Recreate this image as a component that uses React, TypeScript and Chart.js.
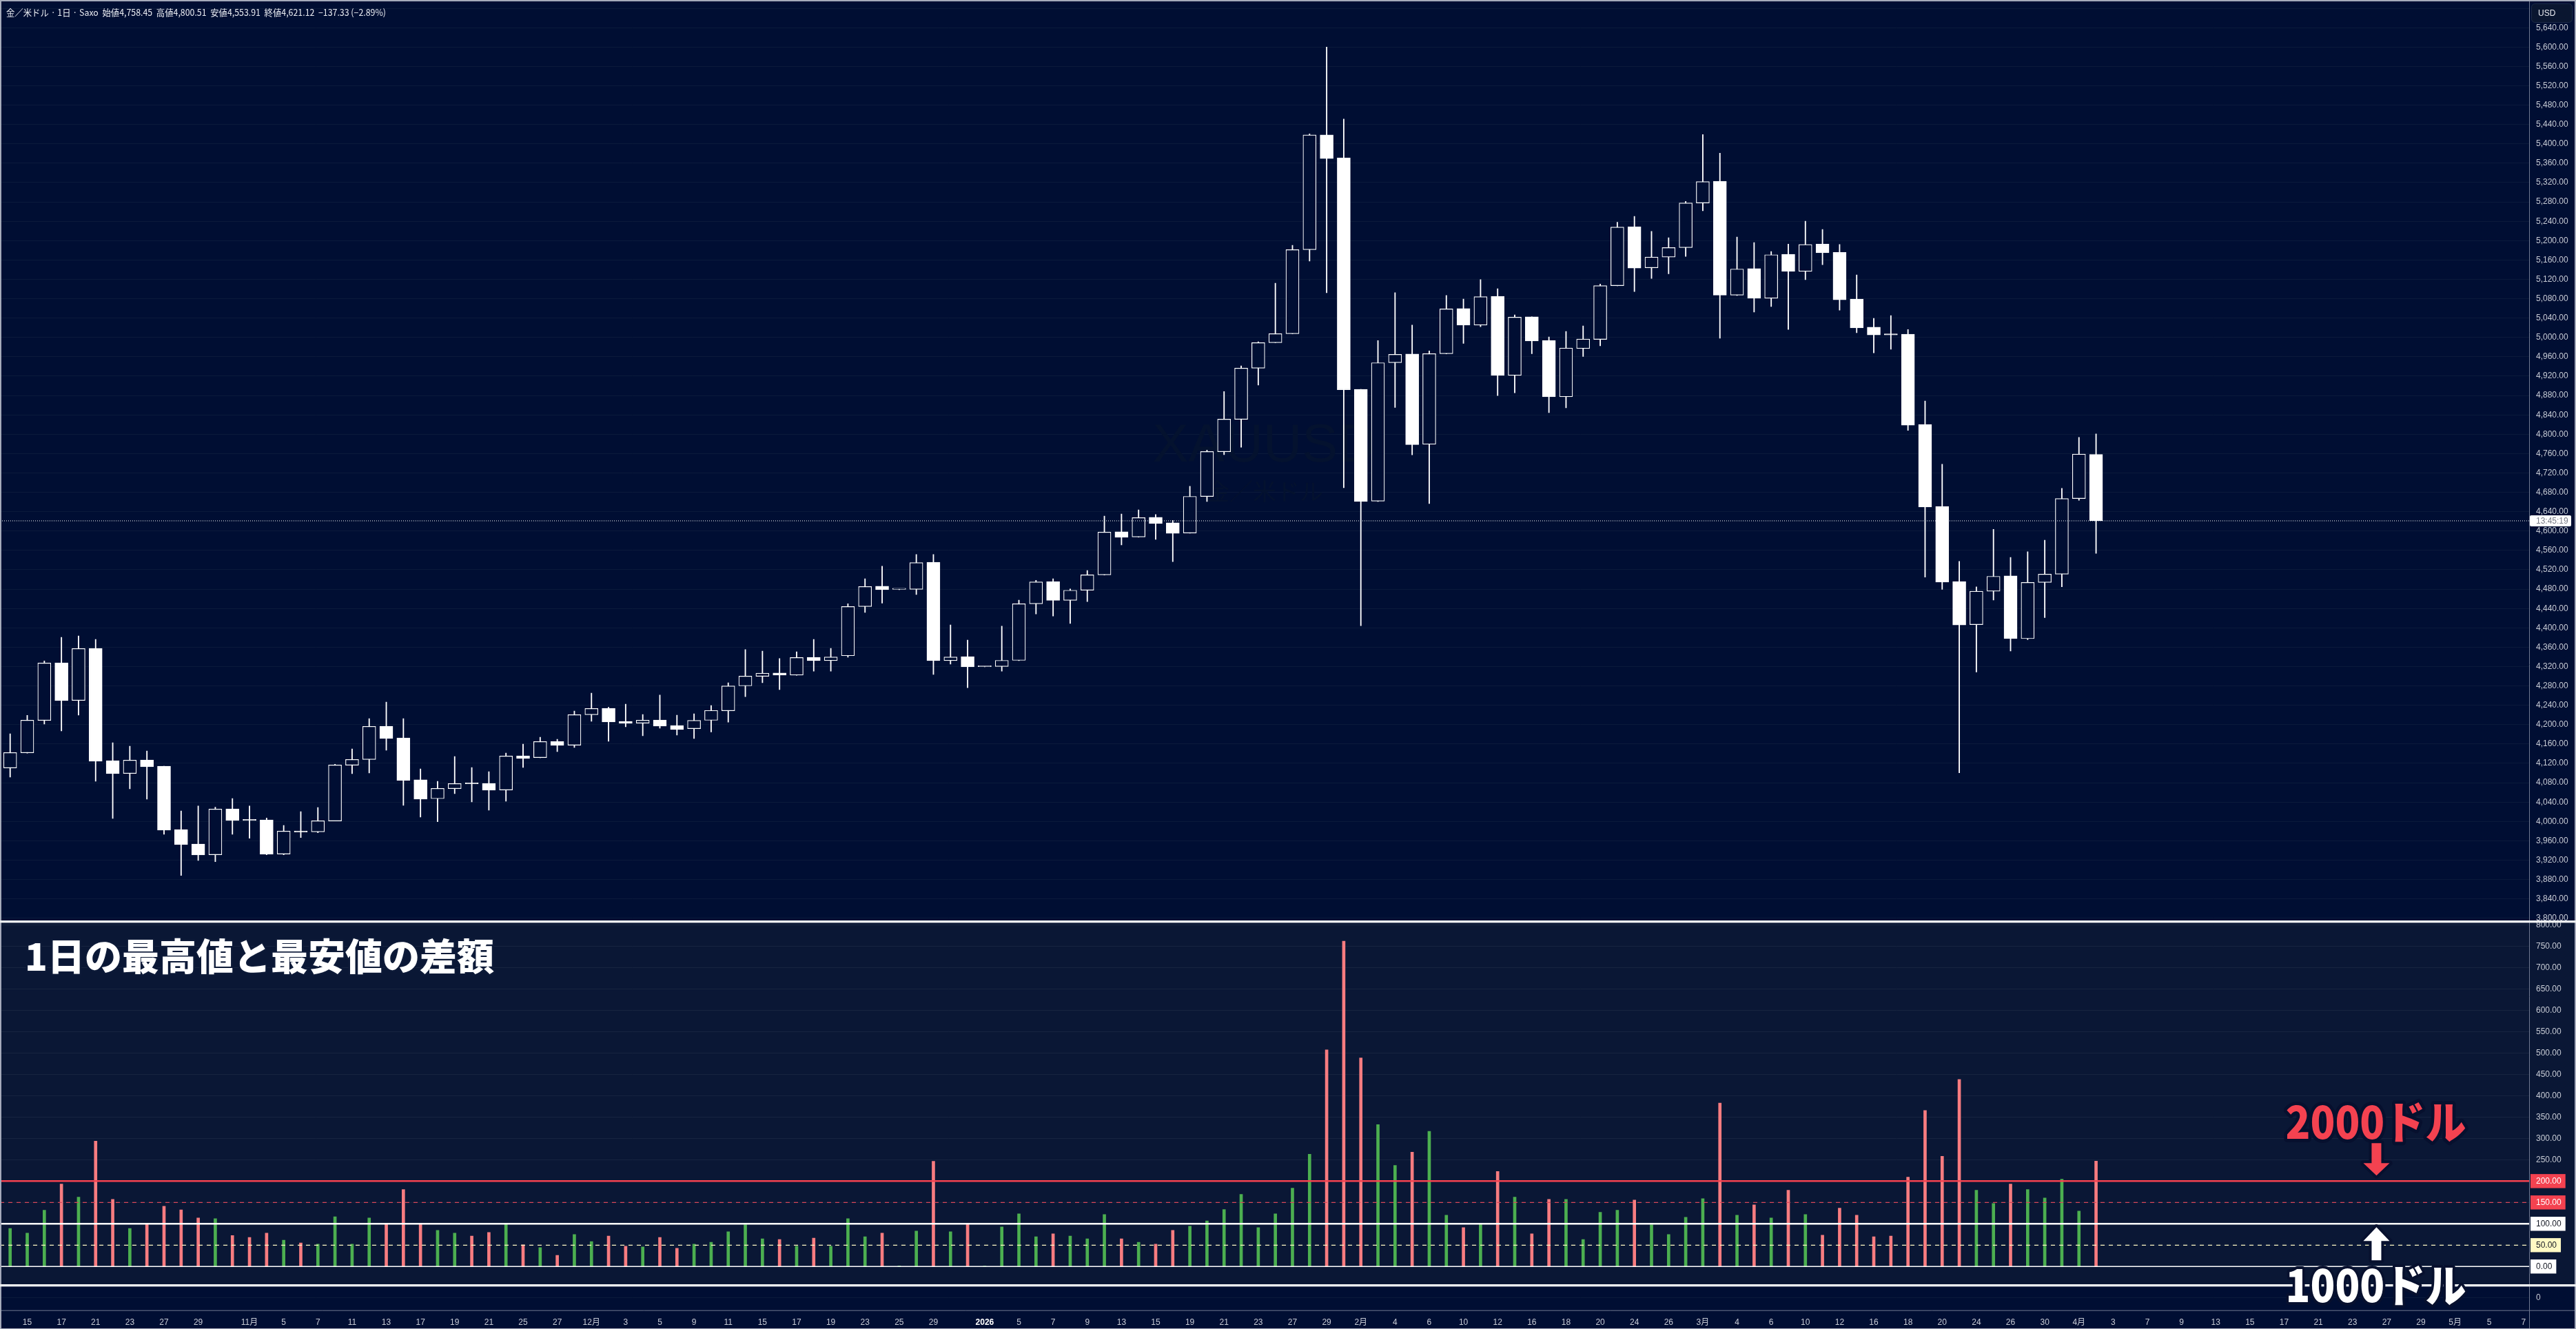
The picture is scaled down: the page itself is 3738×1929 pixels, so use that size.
import React, { useEffect, useRef } from "react";
import { Chart, registerables } from "chart.js";

Chart.register(...registerables);

const opens = [4110.5,4141.8,4208.7,4327.8,4250,4357.7,4125.7,4099.1,4127.1,4114.3,
3983.4,3953.5,3931.2,4026.1,4002.8,4003.3,3932.6,3980.5,3978.6,4001,
4116.2,4128.1,4196.9,4172.7,4085.9,4047,4067.8,4078.7,4078.7,4065,
4135.7,4131.9,4165.1,4157.5,4220.6,4233.9,4206.8,4203.1,4209.7,4198.3,
4191.8,4208.9,4228.6,4280.1,4299.8,4306.8,4302.3,4339.2,4332.2,4342.4,
4444,4486,4479.5,4479.6,4535.6,4332.2,4340.5,4319.7,4320.1,4332.8,
4449.8,4495.5,4456.8,4477.7,4509.5,4598.5,4587.7,4628.4,4616.9,4595.9,
4671.5,4763.9,4830.8,4936.6,4989.2,5007.8,5181.4,5418.5,5371.2,4893,
4661.7,4947.8,4965.7,4779.4,4966.5,5059.7,5025.4,5085.1,4921.6,5042.6,
4993.5,4877.5,4977.2,4996,5107.1,5228.9,5143.9,5166,5185.6,5277.9,
5322.9,5087.5,5142.3,5081,5171.7,5136.5,5192.9,5175.8,5079.3,5021.3,
5006,5006.6,4820.3,4651,4495.6,4406.7,4475.6,4507.4,4377.6,4493.8,
4511,4667.2,4758.45];

const closes = [4142.3,4209.2,4327.4,4249.6,4357.3,4124.3,4098.7,4126.7,4112.9,3982,
3952,3930.7,4025.6,4001.9,4002,3932.1,3980,3978.1,4001.4,4116.7,
4128.1,4196.4,4171.3,4084.9,4046,4068.3,4078.3,4077.8,4064.5,4135.2,
4130,4165.1,4157,4220.6,4233.4,4205.4,4202.6,4209.2,4196.9,4189.8,
4208.9,4229.3,4280.1,4300.4,4306.2,4302.3,4338.6,4332.2,4339.8,4444,
4485.4,4479,4480.3,4534.9,4332.2,4339.8,4319.5,4320.1,4332.8,4449.8,
4494.9,4456.8,4477.7,4509.5,4597.8,4587,4627.7,4615.6,4595.3,4671.6,
4764.3,4831.2,4936.6,4989.2,5007.8,5181.4,5418.5,5369.6,4892,4660.9,
4947.8,4964.9,4778.6,4966.5,5058.9,5025.4,5084.2,4921.6,5041.8,4992.7,
4877.5,4978,4996.8,5107.1,5228.1,5143.1,5166,5185.6,5277.9,5322,
5087.5,5141.4,5081,5170.9,5136.5,5192.1,5175,5077.7,5019.7,5005,
5005.3,4818.7,4649.5,4494.5,4405.7,4475.6,4506.5,4377.6,4493.8,4511,
4667.2,4758.9,4621.12];

const highs = [4181.2,4219.2,4331.6,4380.5,4383.4,4376.2,4162.7,4155.6,4145.6,4114.3,
4021.8,4031.8,4029.4,4047.4,4031.8,4007.1,3991.9,4020.4,4028.9,4118.1,
4149.9,4212.5,4246.7,4212.5,4108.6,4083,4134.2,4111.5,4102.9,4141.4,
4159.9,4174.1,4169.8,4228.2,4265.2,4235.8,4242.4,4221.1,4261,4219.7,
4222.3,4239.4,4286.5,4355.1,4351.9,4336.7,4350.6,4376,4357.6,4449.8,
4501.3,4527.3,4480.3,4551.5,4551.5,4405.9,4374.8,4320.3,4403.4,4457.4,
4498.1,4501.3,4480.3,4518.4,4630.9,4635.3,4643.6,4634,4622,4692.4,
4767.2,4888.2,4941.3,4991.1,5112.1,5190.4,5420.6,5599.9,5451.2,4893,
4993.5,5092.4,5025.4,4972.3,5086.7,5079.3,5119.4,5100.6,5046.6,5042.6,
5000.9,5012.3,5023.8,5110.4,5237.9,5250.1,5219,5206,5281.2,5419.3,
5380.9,5207.6,5196.2,5177.4,5193,5240.3,5223.2,5192.1,5129.2,5039.3,
5045,5016.4,4868.5,4737.9,4537.4,4484.7,4603.6,4545.5,4557.3,4581,
4688.1,4793.4,4800.51];

const lows = [4091.5,4141,4201.1,4187,4219.7,4083,4006.1,4067.3,4046,3973.4,
3888.4,3919.3,3917,3973.4,3965.3,3931.2,3931.2,3966.8,3976.7,4001,
4098.7,4100.1,4147.1,4033.2,4009,3999.5,4057.4,4040.3,4023.2,4041.7,
4111.5,4131.4,4144.2,4152.8,4206.9,4165.6,4195.4,4177,4192.6,4178.4,
4171.4,4184.8,4205.1,4257.9,4286.5,4272.5,4302,4310.6,4310.6,4339.2,
4432,4451,4479,4468.8,4303.6,4325.2,4276.3,4319.5,4310.6,4332.2,
4428.8,4424.4,4409.1,4454.2,4509,4571.2,4587.5,4582.6,4536.8,4595.6,
4661.2,4757.7,4773.3,4901.5,4989,5007.5,5157.7,5092.3,4689.6,4404.3,
4661,4855.4,4757.4,4656.8,4966,4987.8,5022.1,4879.9,4885.7,4966.5,
4844.8,4854.6,4960.8,4982.9,5106.6,5094.9,5121.8,5131.6,5167.6,5261.6,
4998.4,5086.7,5052.4,5063.8,5016.4,5119.4,5150.4,5056.5,5009.9,4968.2,
4975.5,4808,4504.8,4479.4,4100.7,4308.6,4457.5,4352.2,4375.8,4421.2,
4484.7,4663.6,4553.91];

const dailyRanges = [89,78,131.7,193,162.3,293.5,157.4,89,99.9,141,
132.8,113.6,112,72.6,68.2,78,61.7,55.1,52.4,116.4,
52.4,113.6,99.9,180.3,99.9,84.6,78,71.5,79.7,99.9,
50.7,44.2,26.1,74.8,58.4,71.5,47.5,45.8,68.2,42.5,
52.4,56.8,81.4,97.8,65,63.3,47.5,66.6,47.5,112,
69.9,78,1.5,83,246.5,81.4,99.4,1,92.8,123.5,
69.9,76.4,71.5,65,121.8,65,56.8,52.4,84.6,94.5,
107,133.3,168.8,91.2,123.5,183.6,262.9,507.3,761.7,488.2,
332.3,236.7,267.8,316.5,120.2,91.2,99.4,222.4,162.3,76.4,
157.4,157.4,63.3,126.8,131.7,155.7,97.8,74.8,115.3,159,
382.7,120.2,144.2,113.6,178.7,121.8,73.2,136.6,120.2,69.9,
71.5,209.3,365.2,258,437.9,178.7,147.5,193,180.3,160.6,
204.4,130,246.6];

const timeTickIndex = [1,3,5,7,9,11,14,16,18,20,22,24,26,28,30,32,34,36,38,40,42,44,46,48,50,52,54,57,59,61,63,65,67,69,71,73,75,77,79,81,83,85,87,89,91,93,95,97,99,101,103,105,107,109,111,113,115,117,119,121,123,125,127,129,131,133,135,137,139,141,143,145,147];
const timeTickLabels = ["15","17","21","23","27","29","11月","5","7","11","13","17","19","21","25","27","12月","3","5","9","11","15","17","19","23","25","29","2026","5","7","9","13","15","19","21","23","27","29","2月","4","6","10","12","16","18","20","24","26","3月","4","6","10","12","16","18","20","24","26","30","4月","3","7","9","13","15","17","21","23","27","29","5月","5","7"];

const priceTicks = [3800,3840,3880,3920,3960,4000,4040,4080,4120,4160,4200,4240,4280,4320,4360,4400,4440,4480,4520,4560,4600,4640,4680,4720,4760,4800,4840,4880,4920,4960,5000,5040,5080,5120,5160,5200,5240,5280,5320,5360,5400,5440,5480,5520,5560,5600,5640,5680];
const rangeTicks = [0,50,100,150,200,250,300,350,400,450,500,550,600,650,700,750,800];

const solidLevels = [0, 100, 200];
const dashedLevels = [50, 150];
const lastPrice = 4621.12;

const headerText = "金／米ドル · 1日 · Saxo  始値4,758.45  高値4,800.51  安値4,553.91  終値4,621.12  −137.33 (−2.89%)";
const paneTitle = "1日の最高値と最安値の差額";
const redNote = "2000ドル";
const whiteNote = "1000ドル";
const watermarkTop = "XAUUSD";
const watermarkBottom = "金／米ドル";
const countdown = "13:45:19";
const currency = "USD";

const FONT = '"Liberation Sans", "Noto Sans CJK JP", sans-serif';
const JP = '"Noto Sans CJK JP", "Liberation Sans", sans-serif';
const BG = "#000e33";
const PANE = "#0a1735";
const GRID_MAIN = "#0b1a3b";
const GRID_PANE = "#172440";
const TICK = "#c6cad4";
const RED = "#f44250";
const UP = "#4caf50";
const DOWN = "#f77c80";
const EDGE = "#6f7890";

const X_MIN = -0.593;
const X_MAX = 147.33;

const idx = (v: number, i: number) => ({ x: i, y: v });

const fitRightAxis = (a: any) => {
  a.width = 68;
  a.paddingTop = 0;
  a.paddingBottom = 0;
};

function outlined(ctx: any, text: string, x: number, y: number, font: string, fill: string, stroke: string, w: number, maxWidth?: number) {
  ctx.font = font;
  ctx.textBaseline = "middle";
  ctx.textAlign = "left";
  ctx.lineJoin = "round";
  ctx.strokeStyle = stroke;
  ctx.lineWidth = w;
  ctx.strokeText(text, x, y, maxWidth);
  ctx.fillStyle = fill;
  ctx.fillText(text, x, y, maxWidth);
}

function arrow(ctx: any, cx: number, tip: number, base: number, end: number, fill: string) {
  ctx.beginPath();
  ctx.moveTo(cx, tip);
  ctx.lineTo(cx + 19, base);
  ctx.lineTo(cx + 7, base);
  ctx.lineTo(cx + 7, end);
  ctx.lineTo(cx - 7, end);
  ctx.lineTo(cx - 7, base);
  ctx.lineTo(cx - 19, base);
  ctx.closePath();
  ctx.lineJoin = "round";
  ctx.strokeStyle = "#07102e";
  ctx.lineWidth = 8;
  ctx.stroke();
  ctx.fillStyle = fill;
  ctx.fill();
}

const chrome = {
  id: "chrome",
  beforeDraw(chart: any) {
    const { ctx, width, height } = chart;
    const r = chart.scales.yRange;
    ctx.save();
    ctx.fillStyle = BG;
    ctx.fillRect(0, 0, width, height);
    ctx.fillStyle = PANE;
    ctx.fillRect(0, r.top, width, r.bottom - r.top);
    ctx.restore();
  },
  beforeDatasetsDraw(chart: any) {
    const { ctx, chartArea } = chart;
    const cx = (chartArea.left + chartArea.right) / 2;
    ctx.save();
    ctx.fillStyle = "#04122f";
    ctx.textAlign = "center";
    ctx.textBaseline = "middle";
    ctx.font = `78px ${FONT}`;
    ctx.fillText(watermarkTop, cx, 648);
    ctx.font = `34px ${JP}`;
    ctx.fillText(watermarkBottom, cx, 713);
    ctx.restore();
  },
  afterDraw(chart: any) {
    const { ctx, width, height, chartArea, scales } = chart;
    const { x, yPrice, yRange } = scales;
    ctx.save();

    // frame and separators
    ctx.strokeStyle = EDGE;
    ctx.lineWidth = 1;
    ctx.beginPath();
    ctx.moveTo(chartArea.right + 0.5, 0);
    ctx.lineTo(chartArea.right + 0.5, height);
    ctx.moveTo(0, chartArea.bottom + 0.5);
    ctx.lineTo(width, chartArea.bottom + 0.5);
    ctx.stroke();
    ctx.strokeStyle = "#a5aaba";
    ctx.lineWidth = 2;
    ctx.strokeRect(1, 1, width - 2, height - 1);

    ctx.fillStyle = "#eceef0";
    ctx.fillRect(0, yRange.top - 1.5, width, 3.4);
    ctx.fillRect(0, yRange.bottom - 1.5, width, 3.4);

    // header
    ctx.fillStyle = "#e8eaf0";
    ctx.textAlign = "left";
    ctx.textBaseline = "middle";
    ctx.font = `13px ${JP}`;
    ctx.fillText(headerText, 9, 18, 551);

    // currency button
    ctx.fillStyle = "#0a1630";
    ctx.strokeStyle = "#1d2a47";
    ctx.lineWidth = 1;
    ctx.beginPath();
    ctx.roundRect(3673.5, 5.5, 59, 27, 5);
    ctx.fill();
    ctx.stroke();
    ctx.fillStyle = "#e8eaf0";
    ctx.font = `12px ${FONT}`;
    ctx.fillText(currency, 3683, 19.5);

    // countdown tag on the last price
    const py = yPrice.getPixelForValue(lastPrice);
    ctx.fillStyle = "#ffffff";
    ctx.beginPath();
    ctx.roundRect(3671, py - 8, 60, 16, 2);
    ctx.fill();
    ctx.fillStyle = "#787b86";
    ctx.fillText(countdown, 3680, py + 0.5);

    // pane title and notes
    outlined(ctx, paneTitle, 36, 1388, `900 54px ${JP}`, "#ffffff", "#0d1a38", 5, 682);
    const notesX = x.getPixelForValue(138.4);
    const textX = notesX - 132;
    outlined(ctx, redNote, textX, 1628, `900 65px ${JP}`, RED, "#07102e", 10, 262);
    outlined(ctx, whiteNote, textX, 1865, `900 65px ${JP}`, "#ffffff", "#07102e", 8, 262);
    const y200 = yRange.getPixelForValue(200);
    const y100 = yRange.getPixelForValue(100);
    arrow(ctx, notesX, y200 - 8, y200 - 26, y200 - 55, RED);
    arrow(ctx, notesX, y100 + 5, y100 + 25, y100 + 53, "#ffffff");
    ctx.restore();
  },
};

export default function App() {
  const ref = useRef<HTMLCanvasElement | null>(null);

  useEffect(() => {
    if (!ref.current) return;
    const levelLine = (level: number, color: string, width: number, dash: number[]) => ({
      type: "line",
      yAxisID: "yRange",
      data: [{ x: X_MIN, y: level }, { x: X_MAX, y: level }],
      borderColor: color,
      borderWidth: width,
      borderDash: dash,
      pointRadius: 0,
      order: 1,
    });
    const levelColors: Record<number, string> = { 0: "#ffffff", 100: "#ffffff", 200: RED, 50: "#fff9c4", 150: "#d8475a" };
    const chart = new Chart(ref.current, {
      type: "bar",
      data: {
        datasets: [
          {
            type: "bar",
            yAxisID: "yPrice",
            data: highs.map((h, i) => ({ x: i, y: [lows[i], h] })),
            backgroundColor: "#ffffff",
            borderWidth: 0,
            grouped: false,
            barPercentage: 1,
            categoryPercentage: 1,
            maxBarThickness: 1.2,
            order: 5,
          },
          {
            type: "bar",
            yAxisID: "yPrice",
            data: opens.map((o, i) => ({ x: i, y: [o, closes[i]] })),
            backgroundColor: (c: any) => (closes[c.dataIndex] >= opens[c.dataIndex] ? BG : "#ffffff"),
            borderColor: "#ffffff",
            borderWidth: 1.2,
            borderSkipped: false,
            minBarLength: 1.5,
            grouped: false,
            barPercentage: 1,
            categoryPercentage: 1,
            maxBarThickness: 19,
            order: 4,
          },
          {
            type: "bar",
            yAxisID: "yRange",
            data: dailyRanges.map(idx),
            backgroundColor: (c: any) => (closes[c.dataIndex] >= opens[c.dataIndex] ? UP : DOWN),
            borderWidth: 0,
            grouped: false,
            barPercentage: 1,
            categoryPercentage: 1,
            maxBarThickness: 4,
            order: 4,
          },
          ...dashedLevels.map((l) => levelLine(l, levelColors[l], 1.2, [6, 6])),
          ...solidLevels.map((l) => levelLine(l, levelColors[l], l === 0 ? 1.5 : 2.4, [])),
          {
            type: "line",
            yAxisID: "yPrice",
            data: [{ x: X_MIN, y: lastPrice }, { x: X_MAX, y: lastPrice }],
            borderColor: "#ffffff",
            borderWidth: 1,
            borderDash: [1, 2],
            pointRadius: 0,
            order: 1,
          },
        ],
      } as any,
      options: {
        responsive: false,
        devicePixelRatio: 1,
        animation: false,
        events: [],
        layout: { padding: { top: 1, left: 0, right: 0, bottom: 0 } },
        plugins: { legend: { display: false }, tooltip: { enabled: false }, title: { display: false } },
        scales: {
          x: {
            type: "linear",
            offset: false,
            min: X_MIN,
            max: X_MAX,
            grid: { display: false, offset: false },
            border: { display: false },
            afterBuildTicks: (a: any) => {
              a.ticks = timeTickIndex.map((v) => ({ value: v }));
            },
            afterFit: (a: any) => {
              a.height = 27.3;
              a.paddingLeft = 0;
              a.paddingRight = 0;
            },
            ticks: {
              autoSkip: false,
              maxRotation: 0,
              minRotation: 0,
              padding: 3,
              color: (c: any) => (c.tick?.label === "2026" ? "#ffffff" : TICK),
              font: (c: any) => ({ family: FONT, size: 12, weight: c.tick?.label === "2026" ? "bold" : "normal" }),
              callback: (v: any) => timeTickLabels[timeTickIndex.indexOf(Number(v))] ?? "",
            },
          },
          yPrice: {
            type: "linear",
            position: "right",
            stack: "panes",
            stackWeight: 1336.5,
            min: 3793.3,
            max: 5695.8,
            grid: { color: GRID_MAIN, drawTicks: false },
            border: { display: false },
            afterBuildTicks: (a: any) => {
              a.ticks = priceTicks.map((v) => ({ value: v }));
            },
            afterFit: fitRightAxis,
            ticks: {
              autoSkip: false,
              padding: 10,
              color: TICK,
              font: { family: FONT, size: 12 },
              callback: (v: any) => Number(v).toLocaleString("en-US", { minimumFractionDigits: 2, maximumFractionDigits: 2 }),
            },
          },
          yRange: {
            type: "linear",
            position: "right",
            stack: "panes",
            stackWeight: 528,
            min: -43.9,
            max: 807.9,
            grid: { color: GRID_PANE, drawTicks: false },
            border: { display: false },
            afterBuildTicks: (a: any) => {
              a.ticks = rangeTicks.map((v) => ({ value: v }));
            },
            afterFit: fitRightAxis,
            ticks: {
              autoSkip: false,
              padding: 10,
              font: { family: FONT, size: 12 },
              color: (c: any) => {
                const v = c.tick?.value;
                if (v === 200 || v === 150) return "#ffffff";
                if (v === 100 || v === 50 || v === 0) return "#131722";
                return TICK;
              },
              showLabelBackdrop: (c: any) => [0, 50, 100, 150, 200].includes(c.tick?.value),
              backdropColor: (c: any) => {
                const v = c.tick?.value;
                if (v === 200 || v === 150) return RED;
                if (v === 50) return "#fff9c4";
                return "#ffffff";
              },
              backdropPadding: { left: 8, right: 6, top: 3, bottom: 3 },
              callback: (v: any) => Number(v).toFixed(2),
            },
          },
          yVol: {
            type: "linear",
            position: "right",
            stack: "panes",
            stackWeight: 36.2,
            min: -1,
            max: 1,
            grid: { color: GRID_MAIN, drawTicks: false },
            border: { display: false },
            afterBuildTicks: (a: any) => {
              a.ticks = [{ value: 0 }];
            },
            afterFit: fitRightAxis,
            ticks: { padding: 10, color: TICK, font: { family: FONT, size: 12 }, callback: () => "0" },
          },
        },
      } as any,
      plugins: [chrome],
    });
    return () => chart.destroy();
  }, []);

  return (
    <canvas
      ref={ref}
      width={3738}
      height={1929}
      style={{ position: "fixed", left: 0, top: 0, width: 3738, height: 1929, display: "block" }}
    />
  );
}
